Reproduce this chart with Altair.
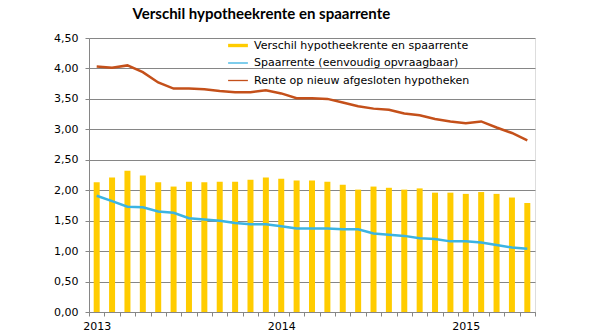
import altair as alt
import pandas as pd

maanden = [
    "2013-01", "2013-02", "2013-03", "2013-04", "2013-05", "2013-06", "2013-07", "2013-08",
    "2013-09", "2013-10", "2013-11", "2013-12", "2014-01", "2014-02", "2014-03", "2014-04",
    "2014-05", "2014-06", "2014-07", "2014-08", "2014-09", "2014-10", "2014-11", "2014-12",
    "2015-01", "2015-02", "2015-03", "2015-04", "2015-05",
]
verschil = [2.13, 2.21, 2.32, 2.24, 2.13, 2.06, 2.14, 2.13, 2.14, 2.14,
            2.17, 2.21, 2.19, 2.16, 2.16, 2.14, 2.09, 2.01, 2.06, 2.04, 2.01, 2.03,
            1.96, 1.96, 1.94, 1.97, 1.94, 1.88, 1.79]
spaarrente = [1.91, 1.82, 1.73, 1.72, 1.65, 1.63, 1.54, 1.52, 1.50, 1.46,
              1.44, 1.44, 1.41, 1.37, 1.37, 1.37, 1.36, 1.36, 1.29, 1.27, 1.25, 1.21,
              1.20, 1.16, 1.16, 1.14, 1.10, 1.06, 1.04]
hypotheekrente = [4.03, 4.01, 4.05, 3.94, 3.77, 3.67, 3.67, 3.66, 3.63, 3.61,
                  3.61, 3.64, 3.59, 3.51, 3.51, 3.50, 3.44, 3.38, 3.34, 3.32, 3.26, 3.23,
                  3.17, 3.13, 3.10, 3.13, 3.03, 2.94, 2.82]

reeksen = [
    "Verschil hypotheekrente en spaarrente",
    "Spaarrente (eenvoudig opvraagbaar)",
    "Rente op nieuw afgesloten hypotheken",
]
kleuren = ["#FFCC00", "#3CB4E2", "#C4501A"]
vormen = [
    "M-1.65,-0.28H1.65V0.28H-1.65Z",
    "M-1.65,-0.11H1.65V0.11H-1.65Z",
    "M-1.65,-0.11H1.65V0.11H-1.65Z",
]

rows = []
for naam, waarden in zip(reeksen, [verschil, spaarrente, hypotheekrente]):
    for m, v in zip(maanden, waarden):
        rows.append({"maand": m, "reeks": naam, "waarde": v})
df = pd.DataFrame(rows)

FONT = "DejaVu Sans"

x = alt.X(
    "maand:O",
    sort=maanden,
    title=None,
    scale=alt.Scale(paddingInner=0, paddingOuter=0),
    axis=alt.Axis(
        labelExpr="substring(datum.value,5,7) == '01' ? substring(datum.value,0,4) : ''",
        labelAngle=0,
        tickBand="extent",
        tickSize=4,
        tickColor="#868686",
        domainColor="#868686",
        labelFont=FONT,
        labelFontSize=11,
        labelColor="#000000",
        labelPadding=4,
        grid=False,
    ),
)
y = alt.Y(
    "waarde:Q",
    title=None,
    scale=alt.Scale(domain=[0, 4.5], nice=False),
    axis=alt.Axis(
        values=[0, 0.5, 1, 1.5, 2, 2.5, 3, 3.5, 4, 4.5],
        labelExpr="replace(format(datum.value, '.2f'), '.', ',')",
        tickSize=4,
        tickColor="#868686",
        domainColor="#868686",
        gridColor="#868686",
        gridWidth=1,
        labelFont=FONT,
        labelFontSize=11,
        labelColor="#000000",
        labelPadding=7,
    ),
)
kleur_schaal = alt.Scale(domain=reeksen, range=kleuren)

leg = dict(
    title=None, orient="none", legendX=143, legendY=1.5,
    padding=0, symbolSize=144, symbolOpacity=1, symbolStrokeWidth=0,
    labelFont=FONT, labelFontSize=11, labelColor="#000000",
    labelOffset=10, rowPadding=6.5, labelLimit=400,
)
kleur = alt.Color("reeks:N", scale=kleur_schaal, legend=alt.Legend(**leg))

legend_layer = alt.Chart(df).mark_point(filled=True, opacity=0).encode(
    x=x, y=y,
    color=kleur,
    shape=alt.Shape("reeks:N", scale=alt.Scale(domain=reeksen, range=vormen),
                    legend=alt.Legend(**leg)),
)

bars = alt.Chart(df).transform_filter(
    alt.datum.reeks == reeksen[0]
).mark_bar(size=6).encode(x=x, y=y, color=kleur)

lines = alt.Chart(df).transform_filter(
    alt.datum.reeks != reeksen[0]
).mark_line(strokeWidth=2.5).encode(
    x=x, y=y, color=kleur, detail="reeks:N",
)

chart = alt.layer(legend_layer, bars, lines).properties(
    width=446,
    height=274,
    padding={"left": 89, "top": 38, "right": 65, "bottom": 24},
    autosize=alt.AutoSizeParams(type="none"),
    title=alt.TitleParams(
        "Verschil hypotheekrente en spaarrente",
        anchor="start", dx=79, dy=15, offset=13, baseline="alphabetic",
        font="Lato", fontSize=15, fontWeight="bold", color="#000000",
    ),
).configure_view(stroke=None).configure(background="#ffffff")

chart.save("out.html", embed_options={"renderer": "svg", "actions": False})
